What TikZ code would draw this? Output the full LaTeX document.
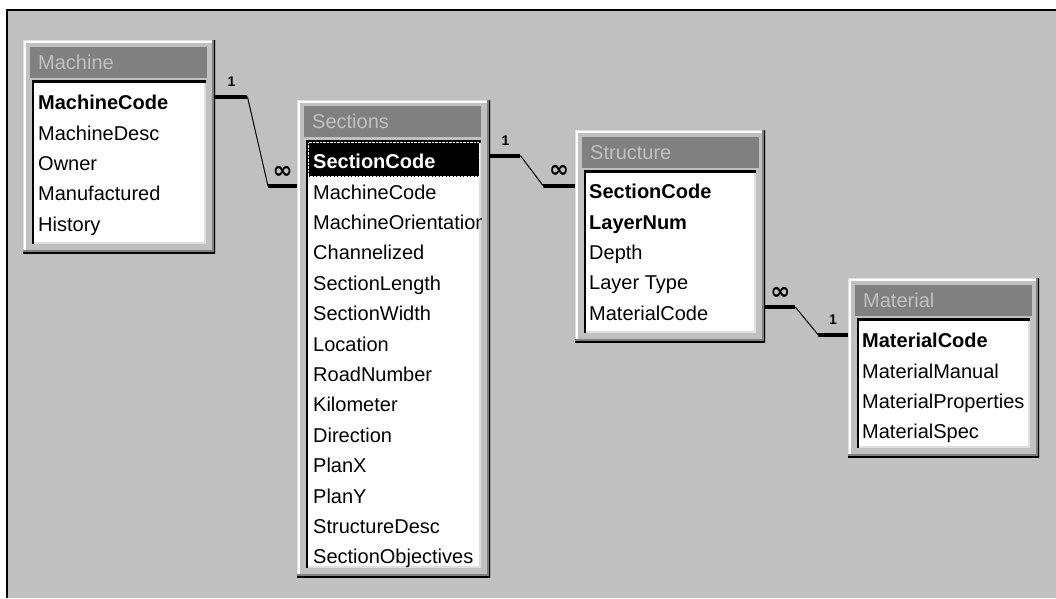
\documentclass[tikz,border=0pt]{standalone}
\usepackage{fontspec}
\setmainfont{Liberation Sans}
\newfontfamily\symfont{DejaVu Sans}
\usepackage{tikz}
\usetikzlibrary{positioning}
\definecolor{wingray}{HTML}{C0C0C0}
\definecolor{titlegray}{HTML}{808080}
\definecolor{lightedge}{HTML}{DFDFDF}
\tikzstyle{tableframe} = [rectangle,anchor=north west,inner sep=0pt,fill=wingray,
  path picture={
    \draw[white,line width=6pt] (path picture bounding box.south west) |- (path picture bounding box.north east);
    \draw[lightedge,line width=2pt] (path picture bounding box.south west) |- (path picture bounding box.north east);
    \draw[titlegray,line width=6pt] (path picture bounding box.south west) -| (path picture bounding box.north east);
    \draw[black,line width=3pt] (path picture bounding box.south west) -| (path picture bounding box.north east);}]
\tikzstyle{titlebar} = [rectangle,anchor=north west,fill=titlegray,text=wingray,minimum height=31pt,text width=161pt,align=left,inner xsep=8pt,inner ysep=0pt,font=\fontsize{20}{24}\selectfont]
\tikzstyle{fieldlist} = [rectangle,anchor=north west,inner sep=0pt,fill=white,
  path picture={
    \draw[lightedge,line width=4pt] (path picture bounding box.south west) -| (path picture bounding box.north east);
    \draw[black,line width=4pt] (path picture bounding box.south west) |- (path picture bounding box.north east);}]
\tikzstyle{field} = [rectangle,anchor=north west,inner sep=0pt,text height=20pt,text depth=4pt,font=\fontsize{20}{24}\selectfont]
\tikzstyle{keyfield} = [field,font=\fontsize{20}{24}\selectfont\bfseries]
\tikzstyle{focusbar} = [rectangle,anchor=north west,fill=black,draw=white,densely dotted,minimum width=171pt,minimum height=34pt]
\tikzstyle{keyline} = [line width=4pt]
\tikzstyle{relline} = [line width=1pt]
\tikzstyle{card} = [above=7pt,inner sep=1pt,font=\fontsize{14}{14}\selectfont\bfseries]
\tikzstyle{manycard} = [above=5pt,inner sep=1pt,font=\symfont\fontsize{24}{24}\selectfont\bfseries]

\begin{document}
\begin{tikzpicture}[x=1pt,y=-1pt]
\useasboundingbox (0,0) rectangle (1056,598);
\fill[wingray] (7,10) rectangle (1056,598);
\draw[line width=2.5pt] (7,598) |- (1056,10);

% Machine
\node (machine) [tableframe,minimum width=192pt,minimum height=213pt] at (23,40) {};
\node (machinetitle) [titlebar,below right=7pt and 7pt of machine.north west] {Machine};
\node (machinelist) [fieldlist,minimum width=174pt,minimum height=163pt,below right=2pt and 2pt of machinetitle.south west] {};
\node (mcode) [keyfield,below right=9pt and 6pt of machinelist.north west] {MachineCode};
\node (mdesc) [field,below=6pt of mcode.south west,anchor=north west] {MachineDesc};
\node (mowner) [field,below=6pt of mdesc.south west,anchor=north west] {Owner};
\node (mmanuf) [field,below=6pt of mowner.south west,anchor=north west] {Manufactured};
\node (mhist) [field,below=6pt of mmanuf.south west,anchor=north west] {History};

% Sections
\node (sections) [tableframe,minimum width=193pt,minimum height=477pt] at (297,100) {};
\node (sectionstitle) [titlebar,below right=6pt and 7pt of sections.north west] {Sections};
\node (sectionslist) [fieldlist,minimum width=175pt,minimum height=427pt,below right=3pt and 2pt of sectionstitle.south west] {};
\begin{scope}
\clip (sectionslist.north west) rectangle (sectionslist.south east);
\node (secfocus) [focusbar,below right=2pt and 2pt of sectionslist.north west] {};
\node (scode) [keyfield,text=white,below right=8pt and 7pt of sectionslist.north west] {SectionCode};
\node (smcode) [field,below=6pt of scode.south west,anchor=north west] {MachineCode};
\node (sorient) [field,below=6pt of smcode.south west,anchor=north west] {MachineOrientation};
\node (schan) [field,below=6pt of sorient.south west,anchor=north west] {Channelized};
\node (slength) [field,below=6pt of schan.south west,anchor=north west] {SectionLength};
\node (swidth) [field,below=6pt of slength.south west,anchor=north west] {SectionWidth};
\node (sloc) [field,below=6pt of swidth.south west,anchor=north west] {Location};
\node (sroad) [field,below=6pt of sloc.south west,anchor=north west] {RoadNumber};
\node (skm) [field,below=6pt of sroad.south west,anchor=north west] {Kilometer};
\node (sdir) [field,below=6pt of skm.south west,anchor=north west] {Direction};
\node (splanx) [field,below=6pt of sdir.south west,anchor=north west] {PlanX};
\node (splany) [field,below=6pt of splanx.south west,anchor=north west] {PlanY};
\node (sstruct) [field,below=6pt of splany.south west,anchor=north west] {StructureDesc};
\node (sobj) [field,below=6pt of sstruct.south west,anchor=north west] {SectionObjectives};
\end{scope}

% Structure
\node (structure) [tableframe,minimum width=190pt,minimum height=212pt] at (575,130) {};
\node (structuretitle) [titlebar,below right=7pt and 7pt of structure.north west] {Structure};
\node (structurelist) [fieldlist,minimum width=172pt,minimum height=162pt,below right=2pt and 2pt of structuretitle.south west] {};
\node (stscode) [keyfield,below right=8pt and 5pt of structurelist.north west] {SectionCode};
\node (stlayer) [keyfield,below=6pt of stscode.south west,anchor=north west] {LayerNum};
\node (stdepth) [field,below=6pt of stlayer.south west,anchor=north west] {Depth};
\node (sttype) [field,below=6pt of stdepth.south west,anchor=north west] {Layer Type};
\node (stmatcode) [field,below=6pt of sttype.south west,anchor=north west] {MaterialCode};

% Material
\node (material) [tableframe,minimum width=191pt,minimum height=179pt] at (848,278) {};
\node (materialtitle) [titlebar,below right=7pt and 7pt of material.north west] {Material};
\node (materiallist) [fieldlist,minimum width=173pt,minimum height=129pt,below right=2pt and 2pt of materialtitle.south west] {};
\begin{scope}
\clip (materiallist.north west) rectangle (materiallist.south east);
\node (matcode) [keyfield,below right=9pt and 5pt of materiallist.north west] {MaterialCode};
\node (matmanual) [field,below=6pt of matcode.south west,anchor=north west] {MaterialManual};
\node (matprop) [field,below=6pt of matmanual.south west,anchor=north west] {MaterialProperties};
\node (matspec) [field,below=6pt of matprop.south west,anchor=north west] {MaterialSpec};
\end{scope}

\draw [keyline] ([yshift=5pt]machine.east |- mcode) -- node[card] {1} ++(32,0) coordinate (ms1);
\draw [keyline] ([yshift=5pt]sections.west |- smcode) -- node[manycard] {∞} ++(-29,0) coordinate (ms2);
\draw [relline] (ms1) -- (ms2);
\draw [keyline] ([yshift=5pt]sections.east |- scode) -- node[card] {1} ++(30,0) coordinate (st1);
\draw [keyline] ([yshift=5pt]structure.west |- stscode) -- node[manycard] {∞} ++(-32,0) coordinate (st2);
\draw [relline] (st1) -- (st2);
\draw [keyline] ([yshift=5pt]structure.east |- stmatcode) -- node[manycard] {∞} ++(30,0) coordinate (sm1);
\draw [keyline] ([yshift=5pt]material.west |- matcode) -- node[card] {1} ++(-30,0) coordinate (sm2);
\draw [relline] (sm1) -- (sm2);
\end{tikzpicture}
\end{document}
